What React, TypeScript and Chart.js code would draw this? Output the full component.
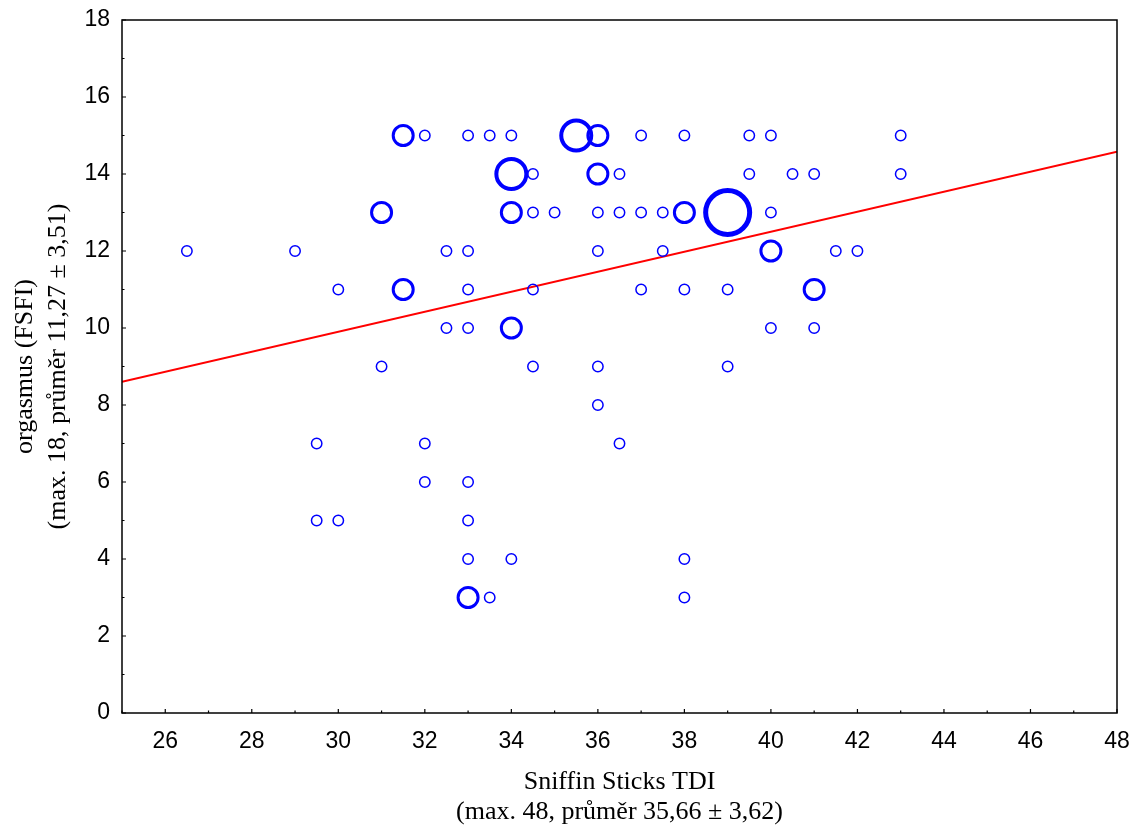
import React, { useEffect, useRef } from "react";
import { Chart, registerables } from "chart.js";

Chart.register(...registerables);

// Sniffin Sticks TDI (x), orgasmus FSFI (y), number of coinciding subjects (freq)
const tdi = [
  31.5, 32, 33, 33.5, 34, 35.5, 36, 37, 38, 39.5, 40, 43,
  34, 34.5, 36, 36.5, 39.5, 40.5, 41, 43,
  31, 34, 34.5, 35, 36, 36.5, 37, 37.5, 38, 39, 40,
  26.5, 29, 32.5, 33, 36, 37.5, 40, 41.5, 42,
  30, 31.5, 33, 34.5, 37, 38, 39, 41,
  32.5, 33, 34, 40, 41,
  31, 34.5, 36, 39,
  36,
  29.5, 32, 36.5,
  32, 33,
  29.5, 30, 33,
  33, 34, 38,
  33, 33.5, 38,
];
const orgasmus = [
  15, 15, 15, 15, 15, 15, 15, 15, 15, 15, 15, 15,
  14, 14, 14, 14, 14, 14, 14, 14,
  13, 13, 13, 13, 13, 13, 13, 13, 13, 13, 13,
  12, 12, 12, 12, 12, 12, 12, 12, 12,
  11, 11, 11, 11, 11, 11, 11, 11,
  10, 10, 10, 10, 10,
  9, 9, 9, 9,
  8,
  7, 7, 7,
  6, 6,
  5, 5, 5,
  4, 4, 4,
  3, 3, 3,
];
const freq = [
  2, 1, 1, 1, 1, 3, 2, 1, 1, 1, 1, 1,
  3, 1, 2, 1, 1, 1, 1, 1,
  2, 2, 1, 1, 1, 1, 1, 1, 2, 4, 1,
  1, 1, 1, 1, 1, 1, 2, 1, 1,
  1, 2, 1, 1, 1, 1, 1, 2,
  1, 1, 2, 1, 1,
  1, 1, 1, 1,
  1,
  1, 1, 1,
  1, 1,
  1, 1, 1,
  1, 1, 1,
  2, 1, 1,
];

// regression line end points
const fitX = [25, 48];
const fitY = [8.6, 14.58];

const xTickValues = [26, 28, 30, 32, 34, 36, 38, 40, 42, 44, 46, 48];
const yTickValues = [0, 2, 4, 6, 8, 10, 12, 14, 16, 18];

const xTitle = ["Sniffin Sticks TDI", "(max. 48, průměr 35,66 ± 3,62)"];
const yTitle = ["orgasmus (FSFI)", "(max. 18, průměr 11,27 ± 3,51)"];

const radiusFor: Record<number, number> = { 1: 5.2, 2: 10, 3: 15, 4: 22 };
const borderFor: Record<number, number> = { 1: 1.5, 2: 3, 3: 4, 4: 5 };

const framePlugin = {
  id: "frameAndTitles",
  afterDatasetsDraw(chart: any) {
    const { ctx, chartArea: a, scales } = chart;
    const xs = scales.x;
    const ys = scales.y;
    ctx.save();
    ctx.strokeStyle = "#000";
    ctx.lineWidth = 1.5;
    ctx.strokeRect(a.left, a.top, a.right - a.left, a.bottom - a.top);
    ctx.lineWidth = 1.2;
    ctx.beginPath();
    for (let v = Math.ceil(xs.min); v <= xs.max; v++) {
      const px = xs.getPixelForValue(v);
      const len = v % 2 === 0 ? 4 : 2.5;
      ctx.moveTo(px, a.bottom);
      ctx.lineTo(px, a.bottom - len);
    }
    for (let v = Math.ceil(ys.min); v <= ys.max; v++) {
      const py = ys.getPixelForValue(v);
      const len = v % 2 === 0 ? 4 : 2.5;
      ctx.moveTo(a.left, py);
      ctx.lineTo(a.left + len, py);
    }
    ctx.stroke();

    ctx.fillStyle = "#000";
    ctx.font = "26px 'Liberation Serif', 'Times New Roman', serif";
    ctx.textAlign = "center";
    ctx.textBaseline = "alphabetic";
    const cx = (a.left + a.right) / 2;
    ctx.fillText(xTitle[0], cx, 789);
    ctx.fillText(xTitle[1], cx, 819);

    const cy = (a.top + a.bottom) / 2;
    ctx.save();
    ctx.translate(32, cy);
    ctx.rotate(-Math.PI / 2);
    ctx.fillText(yTitle[0], 0, 0);
    ctx.restore();
    ctx.save();
    ctx.translate(64.5, cy);
    ctx.rotate(-Math.PI / 2);
    ctx.fillText(yTitle[1], 0, 0);
    ctx.restore();
    ctx.restore();
  },
};

export default function App() {
  const ref = useRef<HTMLCanvasElement | null>(null);

  useEffect(() => {
    if (!ref.current) return;
    const bubbles = tdi.map((x, i) => ({ x, y: orgasmus[i], r: radiusFor[freq[i]] }));
    const fit = fitX.map((x, i) => ({ x, y: fitY[i] }));
    const chart = new Chart(ref.current, {
      type: "bubble",
      data: {
        datasets: [
          {
            type: "line",
            data: fit as any,
            borderColor: "#ff0000",
            borderWidth: 2,
            pointRadius: 0,
            fill: false,
            order: 1,
          } as any,
          {
            type: "bubble",
            data: bubbles,
            borderColor: "#0000ff",
            backgroundColor: "rgba(0,0,0,0)",
            borderWidth: (c: any) => borderFor[freq[c.dataIndex]] ?? 1.5,
            order: 0,
          } as any,
        ],
      },
      options: {
        responsive: false,
        animation: false,
        events: [],
        layout: { autoPadding: false, padding: { top: 20, right: 23, left: 0, bottom: 0 } },
        plugins: {
          legend: { display: false },
          tooltip: { enabled: false },
          title: { display: false },
        },
        scales: {
          x: {
            type: "linear",
            min: 25,
            max: 48,
            grid: { display: false, drawTicks: false },
            border: { display: false },
            afterBuildTicks: (s: any) => {
              s.ticks = xTickValues.map((v) => ({ value: v }));
            },
            afterFit: (s: any) => {
              s.height = 116;
              s.paddingLeft = 0;
              s.paddingRight = 0;
            },
            ticks: {
              padding: 15,
              color: "#000",
              font: { family: "'Liberation Sans', Arial, sans-serif", size: 23 },
              maxRotation: 0,
              autoSkip: false,
            },
          },
          y: {
            type: "linear",
            min: 0,
            max: 18,
            grid: { display: false, drawTicks: false },
            border: { display: false },
            afterBuildTicks: (s: any) => {
              s.ticks = yTickValues.map((v) => ({ value: v }));
            },
            afterFit: (s: any) => {
              s.width = 122;
              s.paddingTop = 0;
              s.paddingBottom = 0;
            },
            ticks: {
              padding: 12,
              color: "#000",
              font: { family: "'Liberation Sans', Arial, sans-serif", size: 23 },
              autoSkip: false,
            },
          },
        },
      } as any,
      plugins: [framePlugin],
    });
    return () => chart.destroy();
  }, []);

  return (
    <div style={{ position: "fixed", left: 0, top: 0, width: 1140, height: 829, background: "#fff" }}>
      <canvas ref={ref} width={1140} height={829} style={{ display: "block" }} />
    </div>
  );
}
